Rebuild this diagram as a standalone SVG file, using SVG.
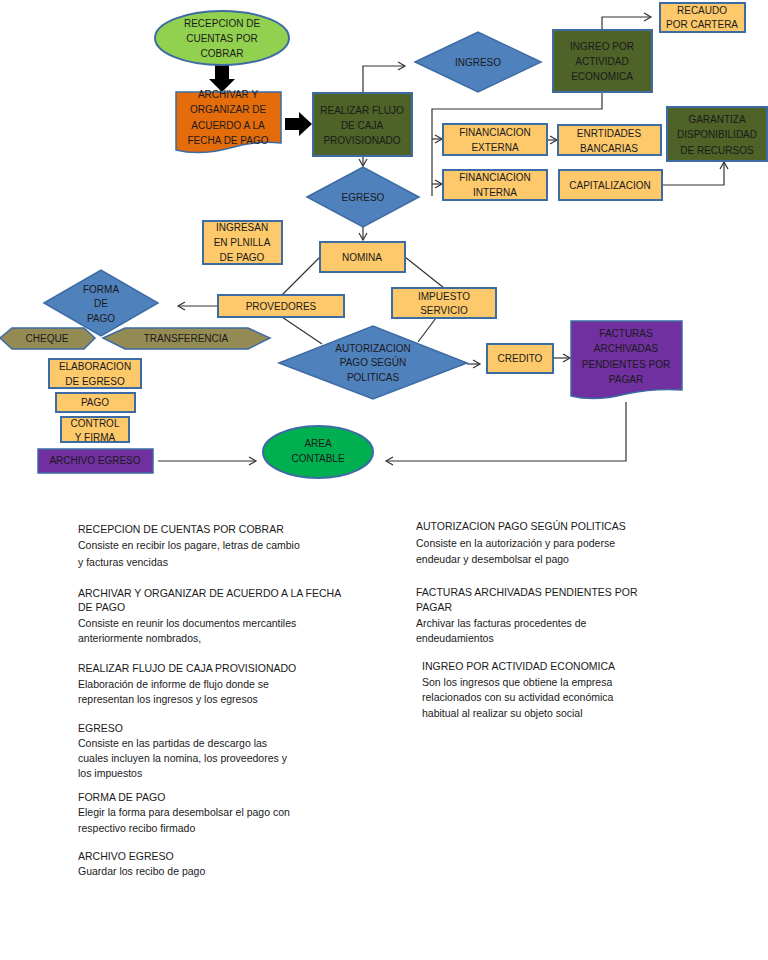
<svg xmlns="http://www.w3.org/2000/svg" width="768" height="960" viewBox="0 0 768 960">
<defs>
<style>
.t{font-family:"Liberation Sans",Arial,sans-serif;font-size:10px;fill:#1a1a1a;text-anchor:middle}
.d{font-family:"Liberation Sans",Arial,sans-serif;font-size:10.5px;fill:#1a1a1a}
.y{fill:#fdc96a;stroke:#3d6ba3;stroke-width:2}
.g{fill:#4f6228;stroke:#3d6ba3;stroke-width:2}
.b{fill:#4f81bd;stroke:#3d6ba3;stroke-width:1.5}
.p{fill:#7030a0;stroke:#3d6ba3;stroke-width:1.5}
.k{fill:#948a54;stroke:#3d6ba3;stroke-width:1.5}
.c{fill:none;stroke:#333;stroke-width:1.2}
</style>
<marker id="a" markerWidth="10" markerHeight="10" refX="8" refY="5" orient="auto" markerUnits="userSpaceOnUse"><path d="M1,1 L8,5 L1,9" fill="none" stroke="#333" stroke-width="1.2"/></marker>
</defs>
<rect width="768" height="960" fill="#fff"/>
<g id="connectors">
<path d="M215,65 h14 v14 h6 l-13,13 l-13,-13 h6 z" fill="#000"/>
<path d="M285,118 h14 v-6 l13,12 l-13,12 v-6 h-14 z" fill="#000"/>
<path class="c" d="M363,93 V66 H405" marker-end="url(#a)"/>
<path class="c" d="M602,30 V17 H651" marker-end="url(#a)"/>
<path class="c" d="M602,92 V109 H432 V196"/>
<path class="c" d="M432,139 H442" marker-end="url(#a)"/>
<path class="c" d="M432,184 H442" marker-end="url(#a)"/>
<path class="c" d="M547,140 H557" marker-end="url(#a)"/>
<path class="c" d="M662,185 H724 V162" marker-end="url(#a)"/>
<path class="c" d="M363,156 V166" marker-end="url(#a)"/>
<path class="c" d="M363,227 V240" marker-end="url(#a)"/>
<path class="c" d="M320,257 L282,295 M405,257 L444,288 M282,317 L322,344 M436,318 L418,342"/>
<path class="c" d="M218,306 H178" marker-end="url(#a)"/>
<path class="c" d="M467,364 H480" marker-end="url(#a)"/>
<path class="c" d="M553,358 H570" marker-end="url(#a)"/>
<path class="c" d="M626,402 V461 H386" marker-end="url(#a)"/>
<path class="c" d="M158,461 H256" marker-end="url(#a)"/>
</g>
<g id="recepcion"><ellipse cx="222" cy="38" rx="67" ry="27" fill="#92d050" stroke="#3d6ba3" stroke-width="2"/><text class="t" x="222" y="27">RECEPCION DE</text><text class="t" x="222" y="42">CUENTAS POR</text><text class="t" x="222" y="57">COBRAR</text></g>
<g id="archivar"><path d="M176,92 H281 V143 Q255,140 230,148 Q200,156 176,150 Z" fill="#e46c0a" stroke="#3d6ba3" stroke-width="1.5"/><text class="t" x="228" y="98">ARCHIVAR Y</text><text class="t" x="228" y="113">ORGANIZAR DE</text><text class="t" x="228" y="129">ACUERDO A LA</text><text class="t" x="228" y="144">FECHA DE PAGO</text></g>
<g id="realizar"><rect class="g" x="313" y="93" width="99" height="63"/><text class="t" x="362" y="114">REALIZAR FLUJO</text><text class="t" x="362" y="129">DE CAJA</text><text class="t" x="362" y="144">PROVISIONADO</text></g>
<g id="ingreso"><path class="b" d="M415,62 L478,32 L541,62 L478,92 Z"/><text class="t" x="478" y="66">INGRESO</text></g>
<g id="ingreo"><rect class="g" x="553" y="30" width="99" height="62"/><text class="t" x="602" y="50">INGREO POR</text><text class="t" x="602" y="65">ACTIVIDAD</text><text class="t" x="602" y="80">ECONOMICA</text></g>
<g id="recaudo"><rect class="y" x="660" y="3" width="85" height="29"/><text class="t" x="702" y="14">RECAUDO</text><text class="t" x="702" y="28">POR CARTERA</text></g>
<g id="finext"><rect class="y" x="443" y="124" width="104" height="31"/><text class="t" x="495" y="136">FINANCIACION</text><text class="t" x="495" y="151">EXTERNA</text></g>
<g id="entidades"><rect class="y" x="558" y="125" width="103" height="30"/><text class="t" x="609" y="137">ENRTIDADES</text><text class="t" x="609" y="152">BANCARIAS</text></g>
<g id="garantiza"><rect class="g" x="667" y="107" width="100" height="54"/><text class="t" x="717" y="123">GARANTIZA</text><text class="t" x="717" y="138">DISPONIBILIDAD</text><text class="t" x="717" y="154">DE RECURSOS</text></g>
<g id="finint"><rect class="y" x="443" y="170" width="104" height="30"/><text class="t" x="495" y="181">FINANCIACION</text><text class="t" x="495" y="196">INTERNA</text></g>
<g id="capital"><rect class="y" x="559" y="170" width="103" height="30"/><text class="t" x="610" y="189">CAPITALIZACION</text></g>
<g id="egreso"><path class="b" d="M307,197 L363,167 L419,197 L363,227 Z"/><text class="t" x="363" y="201">EGRESO</text></g>
<g id="ingresan"><rect class="y" x="203" y="221" width="79" height="43"/><text class="t" x="242" y="231">INGRESAN</text><text class="t" x="242" y="246">EN PLNILLA</text><text class="t" x="242" y="261">DE PAGO</text></g>
<g id="nomina"><rect class="y" x="320" y="242" width="85" height="30"/><text class="t" x="362" y="261">NOMINA</text></g>
<g id="provedores"><rect class="y" x="218" y="295" width="126" height="22"/><text class="t" x="281" y="310">PROVEDORES</text></g>
<g id="impuesto"><rect class="y" x="392" y="288" width="104" height="30"/><text class="t" x="444" y="300">IMPUESTO</text><text class="t" x="444" y="314">SERVICIO</text></g>
<g id="autorizacion"><path class="b" d="M279,363 L373,326 L467,363 L373,399 Z"/><text class="t" x="373" y="352">AUTORIZACION</text><text class="t" x="373" y="366">PAGO SEGÚN</text><text class="t" x="373" y="381">POLITICAS</text></g>
<g id="credito"><rect class="y" x="487" y="344" width="66" height="29"/><text class="t" x="520" y="362">CREDITO</text></g>
<g id="facturas"><path class="p" d="M571,321 H682 V390 Q655,388 626,394 Q595,402 571,396 Z"/><text class="t" x="626" y="337">FACTURAS</text><text class="t" x="626" y="352">ARCHIVADAS</text><text class="t" x="626" y="368">PENDIENTES POR</text><text class="t" x="626" y="383">PAGAR</text></g>
<g id="area"><ellipse cx="318" cy="452" rx="55" ry="26" fill="#00b050" stroke="#3d6ba3" stroke-width="2"/><text class="t" x="318" y="447">AREA</text><text class="t" x="318" y="462">CONTABLE</text></g>
<g id="forma"><path class="b" d="M44,303 L101,270 L158,303 L101,336 Z"/><text class="t" x="101" y="293">FORMA</text><text class="t" x="101" y="307">DE</text><text class="t" x="101" y="322">PAGO</text></g>
<g id="cheque"><path class="k" d="M0,338 L12,328 H84 L95,338 L84,349 H12 Z"/><text class="t" x="47" y="342">CHEQUE</text></g>
<g id="transferencia"><path class="k" d="M103,338 L125,328 H248 L270,338 L248,349 H125 Z"/><text class="t" x="186" y="342">TRANSFERENCIA</text></g>
<g id="elaboracion"><rect class="y" x="49" y="359" width="92" height="29"/><text class="t" x="95" y="370">ELABORACION</text><text class="t" x="95" y="385">DE EGRESO</text></g>
<g id="pago"><rect class="y" x="56" y="393" width="79" height="19"/><text class="t" x="95" y="406">PAGO</text></g>
<g id="control"><rect class="y" x="61" y="417" width="68" height="25"/><text class="t" x="95" y="427">CONTROL</text><text class="t" x="95" y="441">Y FIRMA</text></g>
<g id="archivoegreso"><rect class="p" x="38" y="449" width="115" height="24"/><text class="t" x="95" y="464">ARCHIVO EGRESO</text></g>
<g id="desc">
<text class="d" x="78" y="533">RECEPCION DE CUENTAS POR COBRAR</text>
<text class="d" x="78" y="549">Consiste en recibir los pagare, letras de cambio</text>
<text class="d" x="78" y="566">y facturas vencidas</text>
<text class="d" x="78" y="597">ARCHIVAR Y ORGANIZAR DE ACUERDO A LA FECHA</text>
<text class="d" x="78" y="611">DE PAGO</text>
<text class="d" x="78" y="627">Consiste en reunir los documentos mercantiles</text>
<text class="d" x="78" y="642">anteriormente nombrados,</text>
<text class="d" x="78" y="672">REALIZAR FLUJO DE CAJA PROVISIONADO</text>
<text class="d" x="78" y="688">Elaboración de informe de flujo donde se</text>
<text class="d" x="78" y="703">representan los ingresos y los egresos</text>
<text class="d" x="78" y="732">EGRESO</text>
<text class="d" x="78" y="747">Consiste en las partidas de descargo las</text>
<text class="d" x="78" y="762">cuales incluyen la nomina, los proveedores y</text>
<text class="d" x="78" y="777">los impuestos</text>
<text class="d" x="78" y="801">FORMA DE PAGO</text>
<text class="d" x="78" y="816">Elegir la forma para desembolsar el pago con</text>
<text class="d" x="78" y="832">respectivo recibo firmado</text>
<text class="d" x="78" y="860">ARCHIVO EGRESO</text>
<text class="d" x="78" y="875">Guardar los recibo de pago</text>
<text class="d" x="416" y="530">AUTORIZACION PAGO SEGÚN POLITICAS</text>
<text class="d" x="416" y="547">Consiste en la autorización y para poderse</text>
<text class="d" x="416" y="563">endeudar y desembolsar el pago</text>
<text class="d" x="416" y="596">FACTURAS ARCHIVADAS PENDIENTES POR</text>
<text class="d" x="416" y="611">PAGAR</text>
<text class="d" x="416" y="627">Archivar las facturas procedentes de</text>
<text class="d" x="416" y="642">endeudamientos</text>
<text class="d" x="422" y="670">INGREO POR ACTIVIDAD ECONOMICA</text>
<text class="d" x="422" y="686">Son los ingresos que obtiene la empresa</text>
<text class="d" x="422" y="701">relacionados con su actividad económica</text>
<text class="d" x="422" y="717">habitual al realizar su objeto social</text>
</g>
</svg>
